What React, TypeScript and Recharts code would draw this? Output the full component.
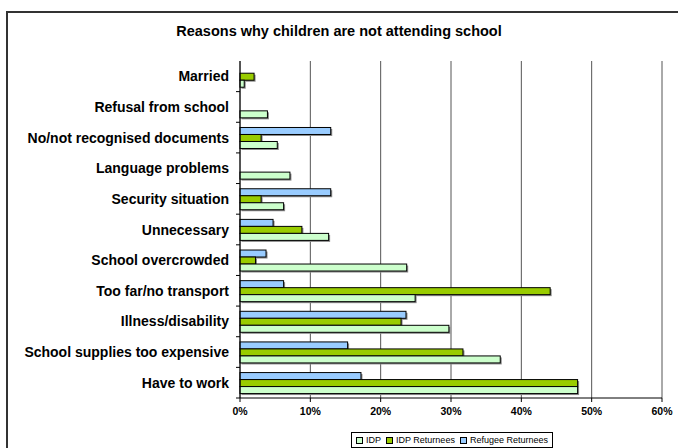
import { BarChart, Bar, XAxis, YAxis, CartesianGrid } from "recharts"

const reasons = [
  "Married",
  "Refusal from school",
  "No/not recognised documents",
  "Language problems",
  "Security situation",
  "Unnecessary",
  "School overcrowded",
  "Too far/no transport",
  "Illness/disability",
  "School supplies too expensive",
  "Have to work",
]

// percent values
const idp = [0.6, 3.9, 5.3, 7.1, 6.2, 12.6, 23.7, 24.9, 29.7, 37.0, 48.0]
const idpReturnees = [2.0, 0, 3.0, 0, 3.0, 8.8, 2.2, 44.1, 22.9, 31.7, 48.0]
const refugeeReturnees = [0, 0, 12.9, 0, 12.9, 4.7, 3.7, 6.2, 23.6, 15.3, 17.2]

const xTicks = [0, 10, 20, 30, 40, 50, 60]

// drawn top to bottom inside each category
const series = [
  { key: "refugee", name: "Refugee Returnees", color: "#99ccff" },
  { key: "idpRet", name: "IDP Returnees", color: "#99cc00" },
  { key: "idp", name: "IDP", color: "#ccffcc" },
]
const legendOrder = ["idp", "idpRet", "refugee"]

const data = reasons.map((reason, i) => ({
  reason,
  idp: idp[i],
  idpRet: idpReturnees[i],
  refugee: refugeeReturnees[i],
}))

const FONT = "'Liberation Sans', Arial, sans-serif"
const AXIS_X = 240
const BAND = 337 / reasons.length

function ShadowBar(props: any) {
  const { x, y, width, height, fill } = props
  if (!width || width <= 0) return null
  return (
    <g>
      <rect x={x + 1.5} y={y + 1.5} width={width} height={height} fill="#8a8a8a" />
      <rect x={x} y={y} width={width} height={height} fill={fill} stroke="#000" strokeWidth={1} />
    </g>
  )
}

function CategoryTick(props: any) {
  const { y, payload } = props
  return (
    <g>
      <text
        x={229}
        y={y}
        dy={5}
        textAnchor="end"
        fontFamily={FONT}
        fontWeight="bold"
        fontSize={14}
        fill="#000"
      >
        {payload.value}
      </text>
      <line x1={AXIS_X - 4} x2={AXIS_X} y1={y + BAND / 2} y2={y + BAND / 2} stroke="#000" />
    </g>
  )
}

function LegendBox() {
  return (
    <div
      style={{
        position: "absolute",
        left: 351,
        top: 432,
        display: "inline-flex",
        alignItems: "center",
        gap: 5,
        border: "1px solid #000",
        padding: "2px 4px",
        background: "#fff",
        fontFamily: FONT,
        fontSize: 9,
        color: "#000",
        whiteSpace: "nowrap",
      }}
    >
      {legendOrder.map((k) => {
        const s = series.find((d) => d.key === k)!
        return (
          <span key={k} style={{ display: "inline-flex", alignItems: "center", gap: 3 }}>
            <span
              style={{
                display: "inline-block",
                width: 5,
                height: 5,
                background: s.color,
                border: "1px solid #000",
              }}
            />
            {s.name}
          </span>
        )
      })}
    </div>
  )
}

export default function App() {
  return (
    <div style={{ position: "absolute", left: 0, top: 0, width: 678, height: 448, background: "#fff", overflow: "hidden" }}>
      <div
        style={{
          position: "absolute",
          left: 6,
          top: 11,
          width: 700,
          height: 460,
          border: "2px solid #333",
          boxSizing: "border-box",
        }}
      />
      <div
        style={{
          position: "absolute",
          left: 0,
          top: 23,
          width: 678,
          textAlign: "center",
          fontFamily: FONT,
          fontWeight: "bold",
          fontSize: 14.5,
          color: "#000",
        }}
      >
        Reasons why children are not attending school
      </div>
      <div style={{ position: "absolute", left: 0, top: 0 }}>
        <BarChart
          width={678}
          height={448}
          data={data}
          layout="vertical"
          margin={{ top: 61, right: 16, left: 8, bottom: 30 }}
          barCategoryGap="17%"
          barGap={0}
        >
          <CartesianGrid horizontal={false} stroke="#555" strokeWidth={1} />
          <XAxis
            type="number"
            domain={[0, 60]}
            ticks={xTicks}
            tickFormatter={(v: number) => `${v}%`}
            axisLine={{ stroke: "#000" }}
            tickLine={{ stroke: "#000" }}
            tickSize={4}
            tickMargin={6}
            tick={{ fontFamily: FONT, fontWeight: "bold", fontSize: 10.5, fill: "#000" }}
            height={20}
          />
          <YAxis
            type="category"
            dataKey="reason"
            width={232}
            axisLine={{ stroke: "#000" }}
            tickLine={false}
            tick={<CategoryTick />}
            interval={0}
          />
          {series.map((s) => (
            <Bar
              key={s.key}
              dataKey={s.key}
              name={s.name}
              fill={s.color}
              shape={<ShadowBar />}
              isAnimationActive={false}
            />
          ))}
        </BarChart>
      </div>
      <LegendBox />
    </div>
  )
}
